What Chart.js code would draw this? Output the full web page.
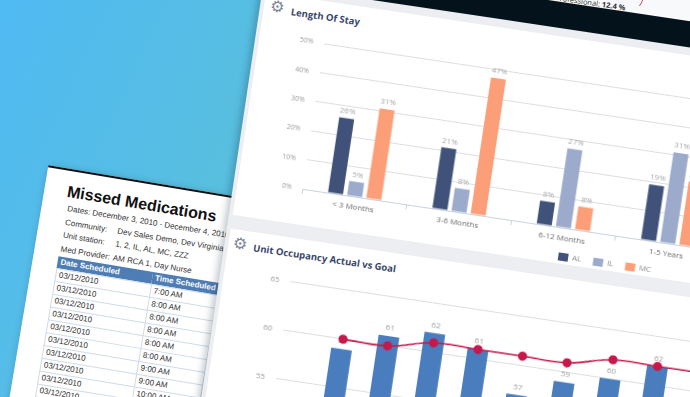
<!DOCTYPE html>
<html lang="en">
<head>
    <meta charset="UTF-8">
    <meta name="viewport" content="width=device-width, initial-scale=1.0">
    <title>Length Of Stay / Unit Occupancy</title>
    <style>
        html, body {
            margin: 0;
            padding: 0;
        }
        body {
            width: 690px;
            height: 397px;
            overflow: hidden;
            position: relative;
            background: linear-gradient(115deg, #50baf3 0%, #57bee2 30%, #5ec3d0 60%, #64c6c6 100%);
            font-family: "Open Sans", Arial, sans-serif;
        }

        /* missed medications sheet, tilted */
        #meds {
            position: absolute;
            left: 0;
            top: 0;
            transform: rotate(9.5deg);
            transform-origin: 0 0;
        }
        .med-sheet {
            position: absolute;
            left: 75px;
            top: 155px;
            width: 205px;
            height: 420px;
            background: #fff;
            border-top: 2px solid #111;
            box-shadow: 2px 2px 8px rgba(0, 0, 0, 0.25);
            overflow: hidden;
            font-family: "Liberation Sans", Arial, sans-serif;
            color: #333;
        }
        .med-sheet h1 {
            position: absolute;
            left: 23px;
            top: 13px;
            margin: 0;
            font-size: 16px;
            line-height: 16px;
            color: #111;
            white-space: nowrap;
        }
        .med-info {
            position: absolute;
            left: 26px;
            top: 31px;
            font-size: 8px;
            line-height: 13.6px;
            white-space: nowrap;
        }
        .med-info .lbl {
            display: inline-block;
            width: 53px;
        }
        .med-table {
            position: absolute;
            left: 24.5px;
            top: 85.5px;
            border-collapse: collapse;
            table-layout: fixed;
            font-size: 8px;
            white-space: nowrap;
        }
        .med-table th {
            background: #4d7db4;
            color: #fff;
            text-align: left;
            padding: 0 3px;
            height: 12px;
            line-height: 12px;
        }
        .med-table td {
            border: 1px solid #cfdbe8;
            padding: 0 3px;
            height: 12px;
            line-height: 12px;
        }

        /* dashboard sheet, tilted */
        #board {
            position: absolute;
            left: 0;
            top: 0;
            transform: rotate(8.5deg);
            transform-origin: 0 0;
        }
        #board > div, #board > canvas, #board > span {
            position: absolute;
        }
        .sheet {
            left: 258px;
            top: -200px;
            width: 900px;
            height: 1000px;
            background: #eceef1;
            box-shadow: -3px 0 7px rgba(0, 30, 50, 0.25);
        }
        .top-white {
            left: 258px;
            top: -200px;
            width: 900px;
            height: 118.5px;
            background: #f8f9fa;
        }
        .band {
            left: 258px;
            top: -81.5px;
            width: 900px;
            height: 26.5px;
            background: #04131b;
        }
        .kpi {
            left: 549px;
            top: -90.5px;
            font-size: 7.5px;
            line-height: 10px;
            color: #333;
            white-space: nowrap;
        }
        .arc {
            left: 620px;
            top: -104px;
            width: 14px;
            height: 16px;
            border: 1.2px solid transparent;
            border-right-color: #d6405d;
            border-radius: 50%;
        }
        .card {
            left: 262px;
            width: 896px;
            background: #fff;
        }
        #card-los {
            top: -47px;
            height: 225px;
        }
        #card-occ {
            top: 192px;
            height: 600px;
        }
        .gear {
            width: 16px;
            text-align: center;
            font: 16px/16px "DejaVu Sans", sans-serif;
            color: #7d8597;
        }
        .card-title {
            font: 700 9.5px/13px "Open Sans", sans-serif;
            color: #38456a;
            white-space: nowrap;
        }
    </style>
</head>
<body>
    <div id="meds">
        <div class="med-sheet">
            <h1>Missed Medications</h1>
            <div class="med-info">
                <div>Dates: December 3, 2010 - December 4, 2010</div>
                <div><span class="lbl">Community:</span>Dev Sales Demo, Dev Virginia</div>
                <div><span class="lbl">Unit station:</span>1, 2, IL, AL, MC, ZZZ</div>
                <div><span class="lbl">Med Provider:</span>AM RCA 1, Day Nurse</div>
            </div>
            <table class="med-table">
                <colgroup><col style="width:96px"><col style="width:66.5px"></colgroup>
                <thead><tr><th>Date Scheduled</th><th>Time Scheduled</th></tr></thead>
                <tbody id="med-rows"></tbody>
            </table>
        </div>
    </div>

    <div id="board">
        <div class="sheet"></div>
        <div class="top-white"></div>
        <span class="kpi">Professional: <b>12.4 %</b></span>
        <div class="arc"></div>
        <div class="band"></div>

        <div class="card" id="card-los"></div>
        <span class="gear" style="left:267.4px; top:-41.8px;">⚙</span>
        <span class="card-title" style="left:289.5px; top:-38px;">Length Of Stay</span>
        <canvas id="losChart" width="480" height="205" style="left:280px; top:-20px;"></canvas>

        <div class="card" id="card-occ"></div>
        <span class="gear" style="left:265.5px; top:197.8px;">⚙</span>
        <span class="card-title" style="left:287.2px; top:200.5px;">Unit Occupancy Actual vs Goal</span>
        <canvas id="occChart" width="500" height="232" style="left:280px; top:220px;"></canvas>
    </div>

    <script src="https://cdn.jsdelivr.net/npm/chart.js"></script>

    <script>
        // Length Of Stay
        const losCategories = ["< 3 Months", "3-6 Months", "6-12 Months", "1-5 Years"];
        const losAL = [26, 21, 8, 19];
        const losIL = [5, 8, 27, 31];
        const losMC = [31, 47, 8, 22];
        const losTicks = [0, 10, 20, 30, 40, 50];

        // Unit Occupancy Actual vs Goal
        const occMonths = ["Jan", "Feb", "Mar", "Apr", "May", "Jun", "Jul", "Aug", "Sep"];
        const occActual = [59, 61, 62, 61, 57, 59, 60, 62, null];
        const occGoal = [60, 60, 61, 61, 61, 61, 62, 62, 62];
        const occTicks = [45, 50, 55, 60, 65];

        // Missed medications table
        const medDates = ["03/12/2010", "03/12/2010", "03/12/2010", "03/12/2010", "03/12/2010",
                          "03/12/2010", "03/12/2010", "03/12/2010", "03/12/2010", "03/12/2010"];
        const medTimes = ["7:00 AM", "8:00 AM", "8:00 AM", "8:00 AM", "8:00 AM",
                          "8:00 AM", "9:00 AM", "9:00 AM", "10:00 AM", ""];

        let medRows = document.getElementById("med-rows");
        medDates.forEach(function(d, i) {
            let tr = document.createElement("tr");
            let td1 = document.createElement("td");
            let td2 = document.createElement("td");
            td1.textContent = d;
            td2.textContent = medTimes[i];
            tr.appendChild(td1);
            tr.appendChild(td2);
            medRows.appendChild(tr);
        });

        Chart.defaults.font.family = "'Open Sans', Arial, sans-serif";
        Chart.defaults.animation = false;

        // value above each bar, drawn right after its dataset so the goal line covers it
        const valueLabels = {
            id: "valueLabels",
            afterDatasetDraw(chart, args, opts) {
                if (args.meta.type !== "bar") return;
                const ds = chart.data.datasets[args.index];
                const ctx = chart.ctx;
                ctx.save();
                ctx.font = opts.size + "px 'Open Sans', sans-serif";
                ctx.fillStyle = opts.color;
                ctx.textAlign = "center";
                ctx.textBaseline = "bottom";
                args.meta.data.forEach(function(bar, i) {
                    const v = ds.data[i];
                    if (v === null || v === undefined) return;
                    ctx.fillText(v + (opts.suffix || ""), bar.x, bar.y - opts.gap);
                });
                ctx.restore();
            }
        };

        // moves the legend sideways
        const legendShift = {
            id: "legendShift",
            afterLayout(chart, args, opts) {
                const lg = chart.legend;
                if (!lg || !opts.x) return;
                lg.left += opts.x;
                lg.right += opts.x;
            }
        };

        new Chart(document.getElementById("losChart"), {
            type: "bar",
            data: {
                labels: losCategories,
                datasets: [
                    { label: "AL", data: losAL, backgroundColor: "#41527a" },
                    { label: "IL", data: losIL, backgroundColor: "#9cabcc" },
                    { label: "MC", data: losMC, backgroundColor: "#fc9f78" }
                ]
            },
            options: {
                responsive: false,
                layout: { padding: { top: 14, right: 11 } },
                datasets: { bar: { categoryPercentage: 0.55, barPercentage: 0.78 } },
                scales: {
                    x: {
                        grid: { drawOnChartArea: false, tickLength: 5, color: "#c9d3df" },
                        border: { color: "#c9d3df" },
                        ticks: { color: "#6b6b6b", font: { size: 8 }, padding: 1 },
                        afterFit: function(s) { s.height = 13; }
                    },
                    y: {
                        min: losTicks[0],
                        max: losTicks[losTicks.length - 1],
                        grid: { color: "#dedede", drawTicks: false },
                        border: { display: false },
                        ticks: {
                            stepSize: losTicks[1] - losTicks[0],
                            padding: 11,
                            color: "#9b9b9b",
                            font: { size: 7 },
                            callback: function(v) { return v + "%"; }
                        },
                        afterFit: function(s) { s.width = 47; }
                    }
                },
                plugins: {
                    legend: {
                        position: "bottom",
                        align: "start",
                        labels: { boxWidth: 10, boxHeight: 8, padding: 12, color: "#8a8a8a", font: { size: 8 } }
                    },
                    legendShift: { x: 298 },
                    valueLabels: { suffix: "%", color: "#a8a8a8", size: 8, gap: 3 },
                    tooltip: { enabled: false }
                }
            },
            plugins: [valueLabels, legendShift]
        });

        new Chart(document.getElementById("occChart"), {
            type: "bar",
            data: {
                labels: occMonths,
                datasets: [
                    {
                        type: "line",
                        label: "Goal",
                        data: occGoal,
                        borderColor: "#c8184b",
                        backgroundColor: "#c8184b",
                        borderWidth: 1.6,
                        pointRadius: 3.8,
                        tension: 0.4,
                        order: 0
                    },
                    {
                        label: "Actual",
                        data: occActual,
                        backgroundColor: "#4a7dbd",
                        barPercentage: 0.58,
                        categoryPercentage: 0.8,
                        order: 1
                    }
                ]
            },
            options: {
                responsive: false,
                layout: { padding: { top: 12.5, right: 8 } },
                scales: {
                    x: {
                        grid: { display: false },
                        ticks: { color: "#6b6b6b", font: { size: 8 } },
                        afterFit: function(s) { s.height = 20; }
                    },
                    y: {
                        min: occTicks[0],
                        max: occTicks[occTicks.length - 1],
                        grid: { color: "#dedede", tickLength: 38 },
                        border: { display: false },
                        ticks: { stepSize: occTicks[1] - occTicks[0], padding: 11, color: "#9b9b9b", font: { size: 8 } },
                        afterFit: function(s) { s.width = 86.9; }
                    }
                },
                plugins: {
                    legend: { display: false },
                    valueLabels: { color: "#9d9d9d", size: 8, gap: 4 },
                    tooltip: { enabled: false }
                }
            },
            plugins: [valueLabels]
        });
    </script>
</body>
</html>
